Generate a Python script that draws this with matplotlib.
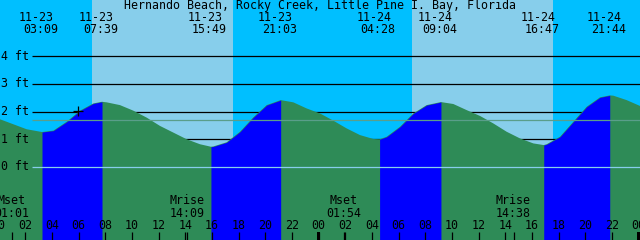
import matplotlib
matplotlib.use('Agg')
import matplotlib.pyplot as plt
from matplotlib.patches import Rectangle

# tide heights (ft), hours from 11-23 00:00
tide_hours = [0, 1, 2, 3.15, 4, 5, 6, 7, 7.65, 8, 9, 10, 11, 12, 13, 14, 15, 15.82, 16, 17,
              18, 19, 20, 21.05, 22, 23, 24, 25, 26, 27, 28, 28.47, 29, 30, 31, 32, 33.07, 34,
              35, 36, 37, 38, 39, 40, 40.78, 41, 42, 43, 44, 45, 45.73, 46, 47, 48]
tide_ft = [1.72, 1.54, 1.36, 1.26, 1.31, 1.63, 2.03, 2.29, 2.35, 2.33, 2.23, 2.03, 1.78, 1.48,
           1.24, 1.00, 0.82, 0.73, 0.74, 0.89, 1.27, 1.79, 2.23, 2.41, 2.33, 2.11, 1.93, 1.67,
           1.39, 1.15, 1.01, 1.00, 1.09, 1.45, 1.93, 2.23, 2.34, 2.27, 2.05, 1.84, 1.57, 1.27,
           1.03, 0.85, 0.79, 0.82, 1.09, 1.63, 2.17, 2.51, 2.58, 2.57, 2.41, 2.20]

# high / low events
event_hours = [3.15, 7.65, 15.82, 21.05, 28.47, 33.07, 40.78, 45.73]
event_dates = ['11-23', '11-23', '11-23', '11-23', '11-24', '11-24', '11-24', '11-24']
event_times = ['03:09', '07:39', '15:49', '21:03', '04:28', '09:04', '16:47', '21:44']
rising = [(3.15, 7.65), (15.82, 21.05), (28.47, 33.07), (40.78, 45.73)]

# daylight
daylight = [(6.9, 17.48), (30.9, 41.48)]

# moon events
moon_hours = [1.02, 14.15, 25.9, 38.63]
moon_names = ['Mset', 'Mrise', 'Mset', 'Mrise']
moon_times = ['01:01', '14:09', '01:54', '14:38']

datum_ft = [1, 2, 3, 4]
mean_ft = 1.69
title = 'Hernando Beach, Rocky Creek, Little Pine I. Bay, Florida'

NIGHT = '#00BFFF'
DAY = '#87CEEB'
WATER = '#2E8B57'
RISE = '#0000FF'

PX_PER_FT = 27.75
ZERO_PX = 167
PX_PER_H = 640 / 48


def py(ypx):
    return (ZERO_PX - ypx) / PX_PER_FT


def ph(xpx):
    return xpx / PX_PER_H


fig = plt.figure(figsize=(6.4, 2.4), dpi=100)
ax = fig.add_axes([0, 0, 1, 1])
ax.set_xlim(0, 48)
ax.set_ylim(py(240), py(0))
ax.axis('off')
ax.set_facecolor(NIGHT)
fig.patch.set_facecolor(NIGHT)

for a, b in daylight:
    ax.axvspan(a, b, color=DAY, lw=0, zorder=0)

x0 = ph(32)
for d in datum_ft:
    ax.hlines(d, x0, 48, color='black', lw=0.9, zorder=1)

bottom = py(240)
ax.fill_between(tide_hours, tide_ft, bottom, color=WATER, lw=0, zorder=2)
for a, b in rising:
    ts = [t for t in tide_hours if a <= t <= b]
    hs = [h for t, h in zip(tide_hours, tide_ft) if a <= t <= b]
    ax.fill_between(ts, hs, bottom, color=RISE, lw=0, zorder=3)

ax.hlines(0, x0, 48, color='#87CEEB', lw=0.9, zorder=4)
ax.hlines(mean_ft, x0, 48, color='#5A9E8A', lw=0.9, zorder=4)

ax.plot([5.85], [2.02], marker='+', color='black', ms=7, mew=0.9, zorder=5)

font = dict(family='DejaVu Sans Mono', fontsize=8.4, color='black', zorder=6)

ax.text(ph(320), py(5.5), title, ha='center', va='center', **font)
for t, d, s in zip(event_hours, event_dates, event_times):
    ax.text(t - ph(5.5), py(17), d, ha='center', va='center', **font)
    ax.text(t - ph(1.5), py(29), s, ha='center', va='center', **font)

for d in datum_ft + [0]:
    ax.text(ph(1.5), d, '%d ft' % d, ha='left', va='center', **font)

for h in range(0, 49, 2):
    ax.text(h - 0.1, py(225.5), '%02d' % (h % 24), ha='center', va='center', **font)
    ax.vlines(h - 0.1, py(240), py(232), color='black', lw=0.9, zorder=6)

for t, n, s in zip(moon_hours, moon_names, moon_times):
    ax.text(t - ph(2), py(201), n, ha='center', va='center', **font)
    ax.text(t - ph(2), py(213.5), s, ha='center', va='center', **font)
    ax.vlines(t - 0.1, py(240), py(232), color='black', lw=0.9, zorder=6)

for m in [24, 48]:
    ax.add_patch(Rectangle((m - ph(3.3), py(240)), ph(3.3), py(232) - py(240),
                           color='black', lw=0, zorder=6))

fig.savefig('out.png', dpi=100, facecolor=fig.get_facecolor())
